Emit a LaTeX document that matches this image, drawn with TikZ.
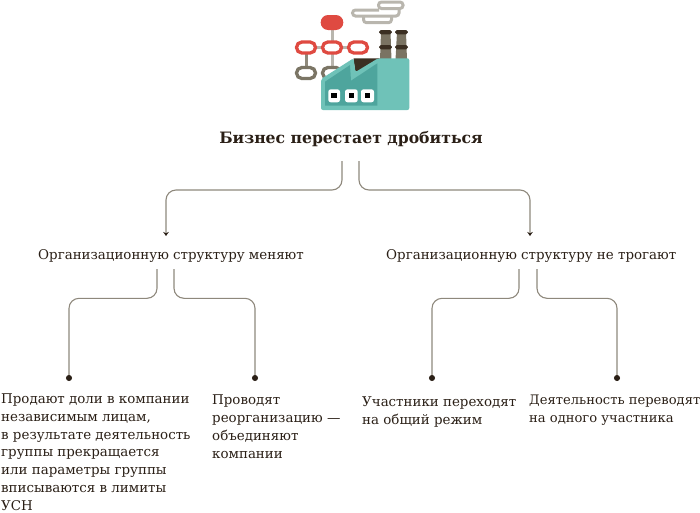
\documentclass[tikz,border=0pt]{standalone}
\usepackage{fontspec}
\setmainfont{DejaVu Serif}
\usetikzlibrary{arrows.meta}
\definecolor{ink}{HTML}{2A1F16}
\definecolor{wire}{HTML}{8E887C}
\definecolor{redc}{HTML}{DF4A41}
\definecolor{grayc}{HTML}{7B7565}
\definecolor{lightg}{HTML}{B9B6AE}
\definecolor{tealL}{HTML}{6FC2B8}
\definecolor{tealD}{HTML}{4EA59D}
\definecolor{smoke}{HTML}{7A7362}
\definecolor{brownd}{HTML}{3B2F22}
\tikzset{
 x=1pt,y=-1pt,
 lbl/.style={font=\fontsize{13.4}{17.9}\selectfont,text=ink,inner sep=0pt,anchor=base west,align=left},
 ttl/.style={font=\fontsize{15.65}{18}\selectfont\bfseries,text=ink,inner sep=0pt,anchor=base},
 conn/.style={draw=wire,line width=1.1pt,rounded corners=10pt},
 arr/.style={conn,-{Stealth[length=4pt,width=5.5pt,color=ink]}},
 dotend/.style={conn,-{Circle[length=6pt,width=6pt,color=ink]}},
 ring/.style={draw=#1,fill=white,line width=3.3pt,rounded corners=5.4pt},
 cloud/.style={draw=lightg,line width=3pt,rounded corners=3pt},
 bar/.style={draw=lightg,line width=3pt},
}
\begin{document}
\begin{tikzpicture}
\useasboundingbox (0,0) rectangle (700,512);
% links
\draw[bar] (332,22) -- (332,76) (306,47.6) -- (358,47.6);
\draw[draw=grayc!85,line width=3pt] (306,50) -- (306,72);
\fill[redc,rounded corners=7.4pt] (320.7,15) rectangle (343.3,30);
\foreach \xx in {306,332,358}{\draw[ring=redc] (\xx-9.5,42) rectangle (\xx+9.5,53);}
\foreach \xx in {306,332}{\draw[ring=grayc] (\xx-9.5,67.5) rectangle (\xx+9.5,78.5);}
% clouds
\draw[cloud] (378.5,2) rectangle (403,8.5);
\draw[cloud] (363.5,16) -- (363.5,22.7) -- (391.5,22.7) -- (391.5,16);
\draw[cloud] (379,10) -- (352.5,10) -- (352.5,16) -- (399,16) -- (399,8.5);
% chimneys
\fill[smoke] (381,32) -- (390.5,32) -- (391.5,60) -- (380,60) -- cycle;
\fill[smoke] (397,32) -- (406,32) -- (407,60) -- (395.5,60) -- cycle;
\foreach \xx/\yy in {379/30,379/45,395/30,395/45}{\fill[brownd,rounded corners=1.8pt] (\xx,\yy) rectangle (\xx+12.8,\yy+4.3);}
% factory
\fill[brownd] (353.5,58.3) -- (380,58.3) -- (355.5,74) -- cycle;
\fill[tealL,rounded corners=2pt] (321,79) -- (353.5,58.3) -- (355.5,72) -- (378,58.3) -- (409.3,58.3) -- (409.3,110) -- (321,110) -- cycle;
\fill[tealD] (325,81.7) -- (350,65) -- (351,80.7) -- (377.3,63.3) -- (377.3,105.7) -- (325,105.7) -- cycle;
\foreach \xa/\xb in {328.3/340,345/357.7,361/374}{\fill[white,rounded corners=2.5pt] (\xa,89.3) rectangle (\xb,102.3);\fill[black] ({(\xa+\xb)/2-2.7},93.2) rectangle ({(\xa+\xb)/2+2.7},98.4);}
% title
\node[ttl] (title) at (351,143.5) {Бизнес перестает дробиться};
\coordinate (t1) at (342,161);\coordinate (t2) at (359,161);
\node[lbl] (a) at (38,259) {Организационную структуру меняют};
\node[lbl] (b) at (386,259) {Организационную структуру не трогают};
\coordinate (a0) at (166,236);\coordinate (b0) at (530,236);
\coordinate (h1) at (0,190);\coordinate (h2) at (0,298.3);
\draw[arr] (t1) -- (t1 |- h1) -- (a0 |- h1) -- (a0);
\draw[arr] (t2) -- (t2 |- h1) -- (b0 |- h1) -- (b0);
\coordinate (a1) at (157,269);\coordinate (a2) at (174,269);
\coordinate (b1) at (519,269);\coordinate (b2) at (537,269);
\coordinate (c1) at (69,381);\coordinate (c2) at (255,381);\coordinate (c3) at (432,381);\coordinate (c4) at (617,381);
\draw[dotend] (a1) -- (a1 |- h2) -- (c1 |- h2) -- (c1);
\draw[dotend] (a2) -- (a2 |- h2) -- (c2 |- h2) -- (c2);
\draw[dotend] (b1) -- (b1 |- h2) -- (c3 |- h2) -- (c3);
\draw[dotend] (b2) -- (b2 |- h2) -- (c4 |- h2) -- (c4);
\node[lbl,font=\fontsize{13.4}{17.7}\selectfont] (d1) at (1,510) {Продают доли в компании\\независимым лицам,\\в результате деятельность\\группы прекращается\\или параметры группы\\вписываются в лимиты\\УСН};
\node[lbl] (d2) at (212,458) {Проводят\\реорганизацию —\\объединяют\\компании};
\node[lbl] (d3) at (362,424.5) {Участники переходят\\на общий режим};
\node[lbl,font=\fontsize{13.1}{17.6}\selectfont] (d4) at (529,422.5) {Деятельность переводят\\на одного участника};
\end{tikzpicture}
\end{document}
